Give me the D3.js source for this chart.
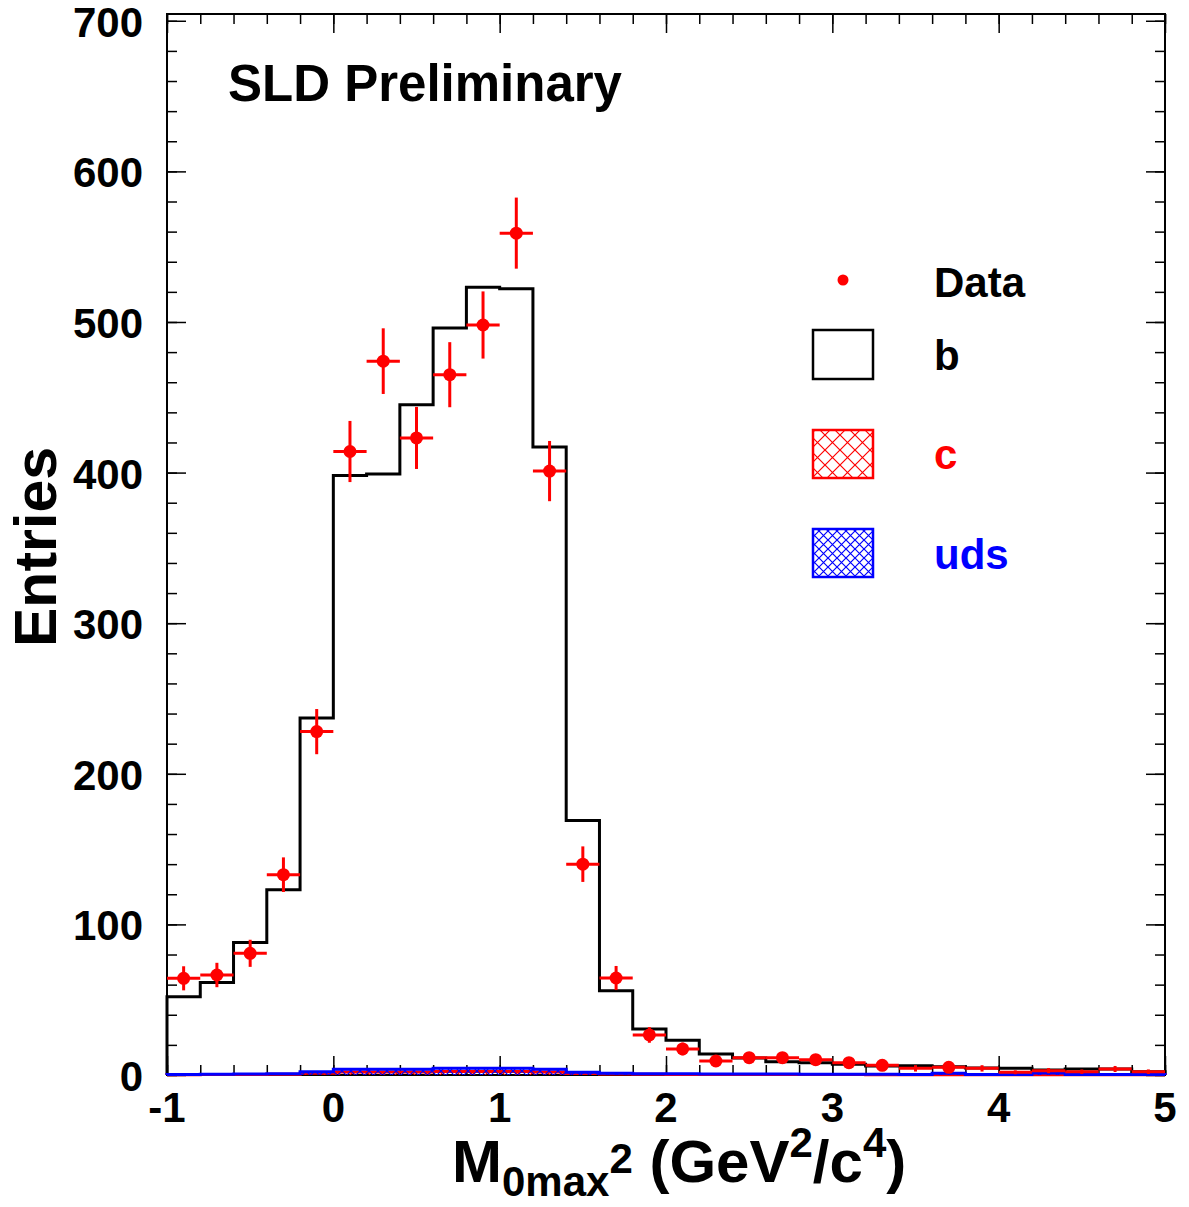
<!DOCTYPE html>
<html>
<head>
<meta charset="utf-8">
<script src="https://cdn.jsdelivr.net/npm/d3@7"></script>
<style>
  body { margin: 0; background: #fff; }
  text { font-family: "Liberation Sans", Arial, Helvetica, sans-serif; font-weight: bold; }
</style>
</head>
<body>
<div id="chart"></div>
<script>
// bin edges (width 0.2) and bin centres
let binEdges = [-1.0, -0.8, -0.6, -0.4, -0.2, 0.0, 0.2, 0.4, 0.6, 0.8,
  1.0, 1.2, 1.4, 1.6, 1.8, 2.0, 2.2, 2.4, 2.6, 2.8,
  3.0, 3.2, 3.4, 3.6, 3.8, 4.0, 4.2, 4.4, 4.6, 4.8, 5.0];
let binCenters = [-0.9, -0.7, -0.5, -0.3, -0.1, 0.1, 0.3, 0.5, 0.7, 0.9,
  1.1, 1.3, 1.5, 1.7, 1.9, 2.1, 2.3, 2.5, 2.7, 2.9,
  3.1, 3.3, 3.5, 3.7, 3.9, 4.1, 4.3, 4.5, 4.7, 4.9];

// MC b histogram
let bValues = [52, 61.5, 88, 123, 237, 398, 399, 445, 496, 523,
  522, 417, 169, 56, 30.5, 23, 14, 11.3, 8.8, 8.2,
  7.1, 6, 6.2, 5.5, 4.6, 4.4, 3.3, 4, 4, 2.2];
// MC c histogram (hidden under uds)
let cValues = [0.2, 0.3, 0.3, 0.5, 1.2, 2.0, 2.0, 2.0, 2.4, 2.4,
  2.4, 2.0, 1.0, 0.6, 0.5, 0.4, 0.4, 0.3, 0.3, 0.3,
  0.3, 0.2, 0.2, 0.2, 0.2, 0.2, 0.2, 0.1, 0.1, 0.1];
// MC uds histogram
let udsValues = [0.4, 0.5, 0.6, 0.9, 2.2, 3.8, 3.8, 3.8, 4.4, 4.4,
  4.4, 3.8, 1.8, 1.1, 0.9, 0.8, 0.7, 0.6, 0.6, 0.5,
  0.5, 0.5, 0.4, 1.2, 0.4, 0.4, 1.3, 0.3, 0.3, 0.3];
// data points and errors
let dataValues = [64.2, 66.4, 80.8, 133, 228, 414, 474, 423, 465, 498,
  559, 401, 140, 64.4, 26.6, 17.3, 9.3, 11.5, 11.5, 10.2,
  8.2, 6.4, 4.4, 5.1, 4.4, 1.8, 2.9, 2.2, 4, 2.2];
let dataErrors = [8, 8.1, 9, 11.5, 15, 20.3, 21.8, 20.6, 21.6, 22.3,
  23.6, 20, 11.8, 8, 5.2, 4.2, 3, 3.4, 3.4, 3.2,
  2.9, 2.5, 2.1, 2.3, 2.1, 1.3, 1.7, 1.5, 2, 1.5];

let xTicks = [-1, 0, 1, 2, 3, 4, 5];
let yTicks = [0, 100, 200, 300, 400, 500, 600, 700];

let svgWidth = 1189;
let svgHeight = 1207;
let frame = { left: 167, right: 1165, top: 14, bottom: 1075 };

let svg = d3.select("#chart")
  .append("svg")
  .attr("width", svgWidth)
  .attr("height", svgHeight);

let x = d3.scaleLinear().domain([-1, 5]).range([frame.left, frame.right]);
let y = d3.scaleLinear().domain([0, 704.5]).range([frame.bottom, frame.top]);

// hatch patterns
let defs = svg.append("defs");
function crossHatch(id, color, step) {
  let p = defs.append("pattern")
    .attr("id", id)
    .attr("patternUnits", "userSpaceOnUse")
    .attr("width", step)
    .attr("height", step);
  p.append("path")
    .attr("d", `M0,0L${step},${step}M${step},0L0,${step}`)
    .attr("stroke", color)
    .attr("stroke-width", 1.2);
}
crossHatch("hatchC", "#ff0000", 15);
crossHatch("hatchUds", "#0000ff", 9);

// frame (drawn first so the histograms sit on top of it)
svg.append("rect")
  .attr("x", frame.left).attr("y", frame.top)
  .attr("width", frame.right - frame.left)
  .attr("height", frame.bottom - frame.top)
  .attr("fill", "none")
  .attr("stroke", "#000")
  .attr("stroke-width", 2);

// ticks: major and minor on all four sides, pointing inside
let xMinor = binEdges;
let yMinor = d3.range(0, 701, 20);
function tickGroup(axis, transform) {
  let g = svg.append("g").attr("transform", transform).call(axis);
  g.select(".domain").remove();
  g.selectAll(".tick line").attr("stroke", "#000").attr("stroke-width", 1.5);
  g.selectAll("text").remove();
  return g;
}
tickGroup(d3.axisBottom(x).tickValues(xTicks).tickSize(-19), `translate(0,${frame.bottom})`);
tickGroup(d3.axisBottom(x).tickValues(xMinor).tickSize(-10), `translate(0,${frame.bottom})`);
tickGroup(d3.axisTop(x).tickValues(xTicks).tickSize(-19), `translate(0,${frame.top})`);
tickGroup(d3.axisTop(x).tickValues(xMinor).tickSize(-10), `translate(0,${frame.top})`);
tickGroup(d3.axisLeft(y).tickValues(yTicks).tickSize(-19), `translate(${frame.left},0)`);
tickGroup(d3.axisLeft(y).tickValues(yMinor).tickSize(-10), `translate(${frame.left},0)`);
tickGroup(d3.axisRight(y).tickValues(yTicks).tickSize(-19), `translate(${frame.right},0)`);
tickGroup(d3.axisRight(y).tickValues(yMinor).tickSize(-10), `translate(${frame.right},0)`);

// step-path for a histogram
function histPath(values) {
  let pts = [[binEdges[0], 0]];
  values.forEach((v, i) => {
    pts.push([binEdges[i], v]);
    pts.push([binEdges[i + 1], v]);
  });
  pts.push([binEdges[binEdges.length - 1], 0]);
  return d3.line().x(d => x(d[0])).y(d => y(d[1]))(pts);
}

let plot = svg.append("g");

plot.append("path")
  .attr("d", histPath(bValues))
  .attr("fill", "none")
  .attr("stroke", "#000")
  .attr("stroke-width", 3);

plot.append("path")
  .attr("d", histPath(cValues))
  .attr("fill", "url(#hatchC)")
  .attr("stroke", "#ff0000")
  .attr("stroke-width", 3);

plot.append("path")
  .attr("d", histPath(udsValues))
  .attr("fill", "url(#hatchUds)")
  .attr("stroke", "#0000ff")
  .attr("stroke-width", 3);

// data points with error bars
let points = binCenters.map((c, i) => ({ c: c, v: dataValues[i], e: dataErrors[i], lo: binEdges[i], hi: binEdges[i + 1] }));
let pts = plot.append("g").attr("stroke", "#ff0000").attr("stroke-width", 3);
pts.selectAll(".hbar").data(points).enter().append("line")
  .attr("x1", d => x(d.lo)).attr("x2", d => x(d.hi))
  .attr("y1", d => y(d.v)).attr("y2", d => y(d.v));
pts.selectAll(".vbar").data(points).enter().append("line")
  .attr("x1", d => x(d.c)).attr("x2", d => x(d.c))
  .attr("y1", d => y(d.v - d.e)).attr("y2", d => y(d.v + d.e));
plot.append("g").selectAll("circle")
  .data(points.filter(d => d.v >= 5))
  .enter().append("circle")
  .attr("cx", d => x(d.c))
  .attr("cy", d => y(d.v))
  .attr("r", 6.5)
  .attr("fill", "#ff0000");

// tick labels
svg.append("g").selectAll("text")
  .data(xTicks).enter().append("text")
  .attr("x", d => x(d))
  .attr("y", frame.bottom + 47)
  .attr("text-anchor", "middle")
  .style("font-size", "42px")
  .text(d => d);
svg.append("g").selectAll("text")
  .data(yTicks).enter().append("text")
  .attr("x", 143)
  .attr("y", d => y(d) + 16)
  .attr("text-anchor", "end")
  .style("font-size", "42px")
  .text(d => d);

// axis titles
svg.append("text")
  .attr("transform", "translate(56, 547) rotate(-90)")
  .attr("text-anchor", "middle")
  .style("font-size", "59px")
  .text("Entries");

let xt = svg.append("text")
  .attr("x", 452)
  .attr("y", 1182)
  .style("font-size", "60px");
xt.append("tspan").text("M");
xt.append("tspan").attr("dy", 14).style("font-size", "42px").text("0max");
xt.append("tspan").attr("dy", -23).style("font-size", "42px").text("2");
xt.append("tspan").attr("dy", 9).text(" (GeV");
xt.append("tspan").attr("dy", -25).style("font-size", "42px").text("2");
xt.append("tspan").attr("dy", 25).text("/c");
xt.append("tspan").attr("dy", -25).style("font-size", "42px").text("4");
xt.append("tspan").attr("dy", 25).text(")");

// header
svg.append("text")
  .attr("x", 228)
  .attr("y", 101)
  .style("font-size", "51px")
  .text("SLD Preliminary");

// legend
let legend = svg.append("g");
legend.append("circle").attr("cx", 843).attr("cy", 280).attr("r", 5.5).attr("fill", "#ff0000");
legend.append("rect").attr("x", 813).attr("y", 330).attr("width", 60).attr("height", 49)
  .attr("fill", "none").attr("stroke", "#000").attr("stroke-width", 2.5);
legend.append("rect").attr("x", 813).attr("y", 430).attr("width", 60).attr("height", 48)
  .attr("fill", "url(#hatchC)").attr("stroke", "#ff0000").attr("stroke-width", 2.5);
legend.append("rect").attr("x", 813).attr("y", 529).attr("width", 60).attr("height", 48)
  .attr("fill", "url(#hatchUds)").attr("stroke", "#0000ff").attr("stroke-width", 2.5);

let legendLabels = ["Data", "b", "c", "uds"];
let legendColors = ["#000", "#000", "#ff0000", "#0000ff"];
let legendY = [297, 370, 469, 569];
legend.selectAll(".lbl").data(legendLabels).enter().append("text")
  .attr("x", 934)
  .attr("y", (d, i) => legendY[i])
  .attr("fill", (d, i) => legendColors[i])
  .style("font-size", "42px")
  .text(d => d);
</script>
</body>
</html>
